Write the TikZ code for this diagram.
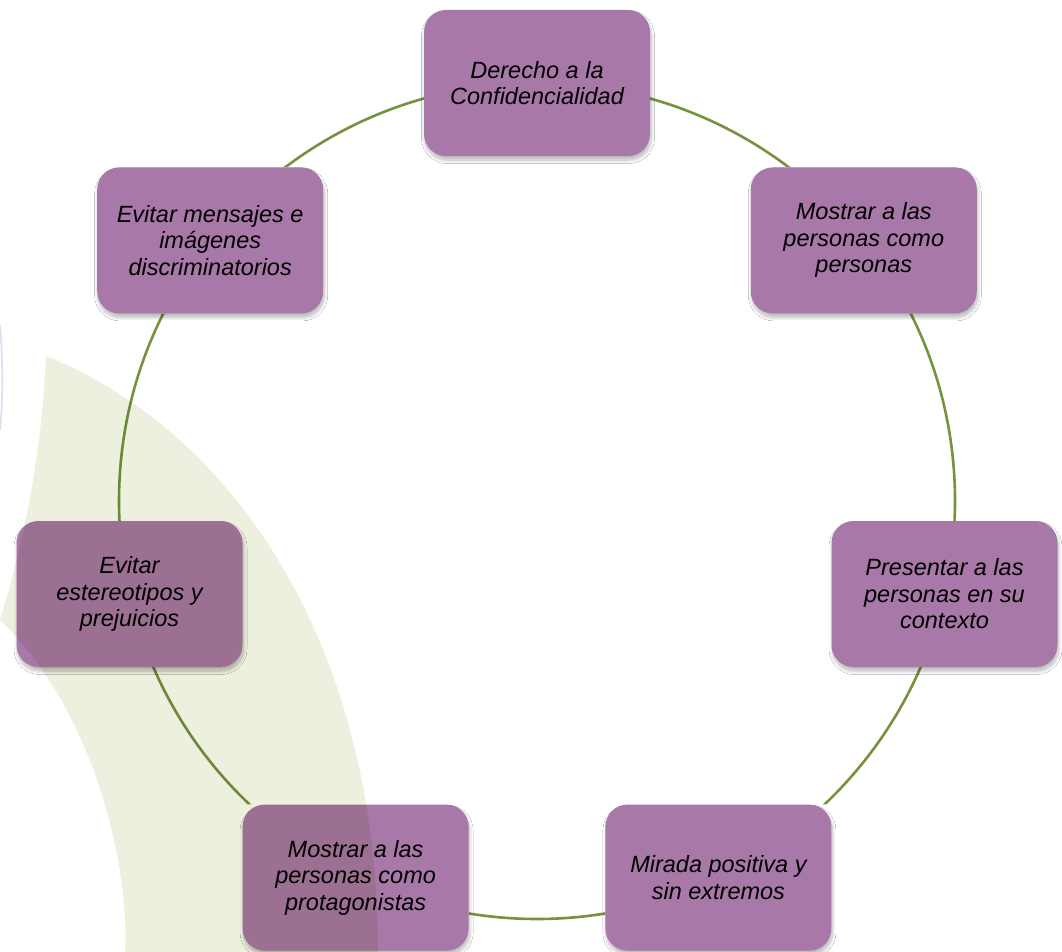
\documentclass[tikz,border=0pt]{standalone}
\usepackage{fontspec}
\setmainfont{Liberation Sans}
\usetikzlibrary{shadows,shadows.blur}
\definecolor{boxfill}{HTML}{A878A8}
\definecolor{linegreen}{HTML}{76923C}
\definecolor{bggreen}{HTML}{EDF0DE}
\definecolor{lavender}{HTML}{E4DAF0}
\pgfdeclarelayer{background}
\pgfsetlayers{background,main}
\begin{document}
\begin{tikzpicture}[x=1pt,y=-1pt,
  stepbox/.style={rectangle, rounded corners=22pt, minimum width=226pt,
    minimum height=146pt, inner sep=0pt, fill=boxfill, align=center,
    font=\fontsize{23.5}{26.5}\selectfont\itshape, text=black,
    blur shadow={shadow xshift=1pt, shadow yshift=-4pt, shadow opacity=28,
      shadow blur steps=10, shadow blur radius=3.5pt}},
  arcline/.style={draw=linegreen, line width=2.6pt}]
\useasboundingbox (0,0) rectangle (1062,952);
\coordinate (C) at (537,501);

\node[stepbox] (n1) at (537,83)    {Derecho a la\\Confidencialidad};
\node[stepbox] (n2) at (863.8,240.4) {Mostrar a las\\personas como\\personas};
\node[stepbox] (n3) at (944.5,594)   {Presentar a las\\personas en su\\contexto};
\node[stepbox] (n4) at (718.4,877.6) {Mirada positiva y\\sin extremos};
\node[stepbox] (n5) at (355.6,877.6) {Mostrar a las\\personas como\\protagonistas};
\node[stepbox] (n6) at (129.5,594)   {Evitar\\estereotipos y\\prejuicios};
\node[stepbox] (n7) at (210.2,240.4) {Evitar mensajes e\\imágenes\\discriminatorios};

\begin{pgfonlayer}{background}
  \fill[white] (0,0) rectangle (1062,952);
  \draw[lavender, line width=1.6pt] (0,325) .. controls (3,360) and (3,400) .. (0,430);
  \begin{scope}[even odd rule]
    \clip (-10,-10) rectangle (1072,962)
      (n1.south west) rectangle (n1.north east)
      (n2.south west) rectangle (n2.north east)
      (n3.south west) rectangle (n3.north east)
      (n4.south west) rectangle (n4.north east)
      (n5.south west) rectangle (n5.north east)
      (n6.south west) rectangle (n6.north east)
      (n7.south west) rectangle (n7.north east);
    \draw[arcline] (C) circle[radius=418];
  \end{scope}
\end{pgfonlayer}

\begin{scope}[blend mode=multiply]
  \fill[bggreen] (46,356) .. controls (230,430) and (378,640) .. (378,952)
    -- (125,952) .. controls (130,850) and (85,700) .. (0,620)
    .. controls (25,540) and (42,450) .. cycle;
\end{scope}
\end{tikzpicture}
\end{document}
